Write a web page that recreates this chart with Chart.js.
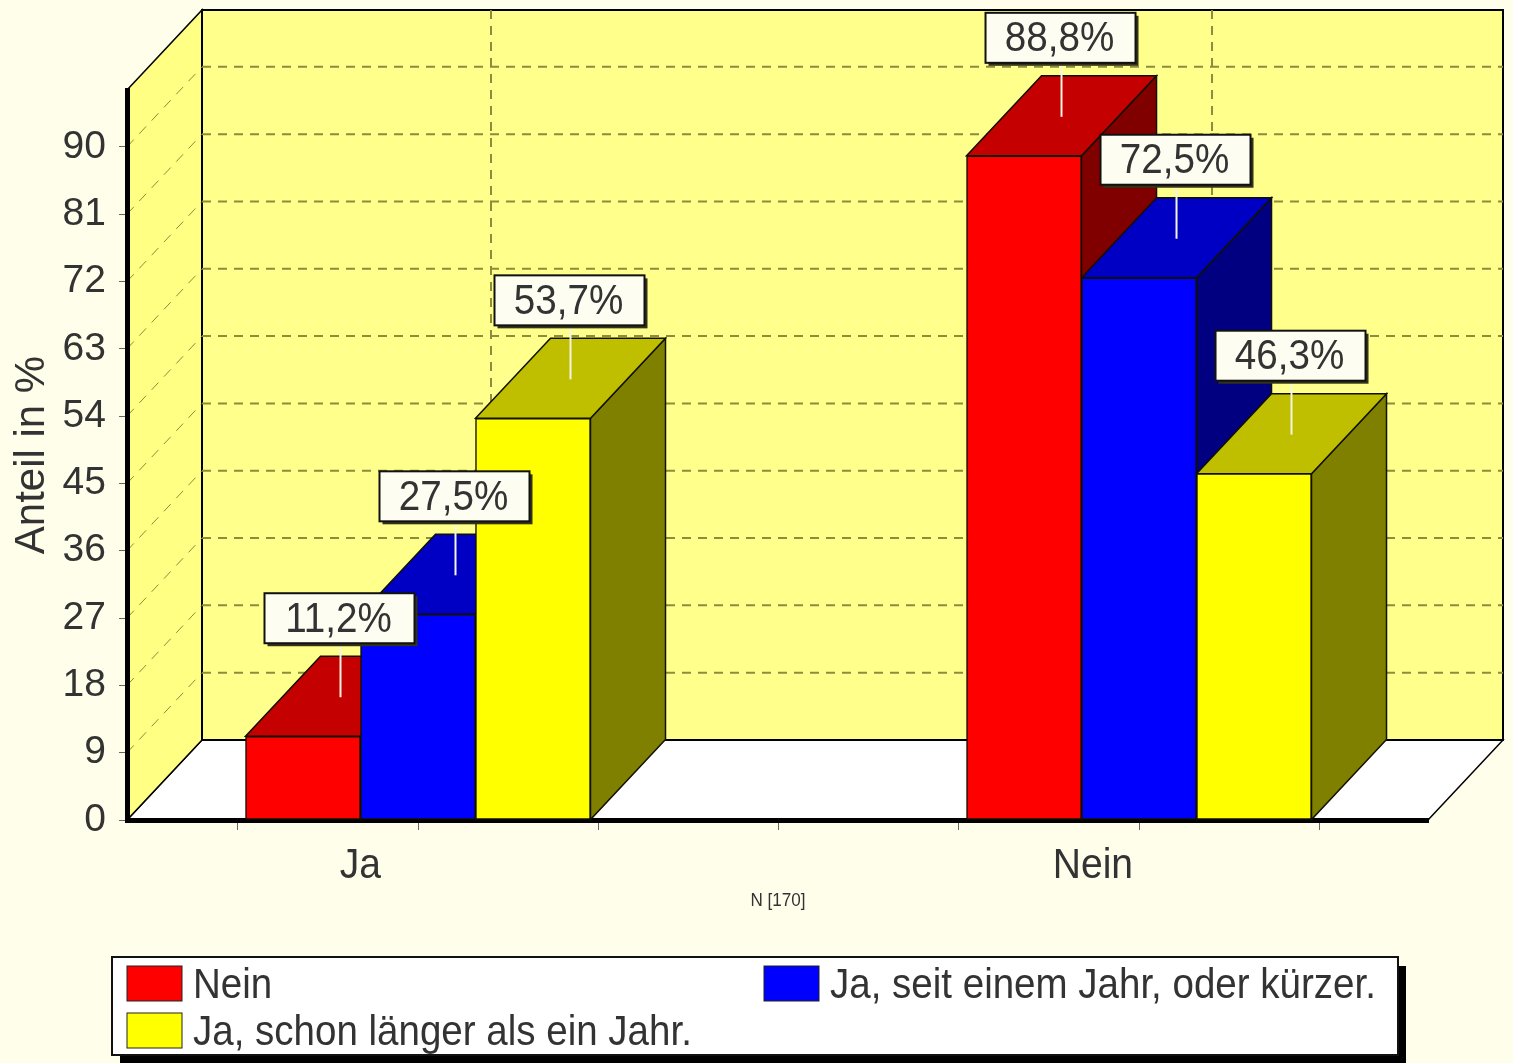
<!DOCTYPE html>
<html lang="de">
<head>
<meta charset="utf-8">
<title>Anteil in %</title>
<style>
  html, body { margin: 0; padding: 0; background: #fffeeb; }
  #chartBox { position: relative; width: 1513px; height: 1063px; }
</style>
</head>
<body>
<div id="chartBox"><canvas id="chart"></canvas></div>
<script src="https://cdn.jsdelivr.net/npm/chart.js@4/dist/chart.umd.min.js"></script>
<script>
const categories = ["Ja", "Nein"];
const categoryPositions = [0, 1];
const categoryLabelPositions = [-0.08, 0.936];
const seriesNames = ["Nein", "Ja, seit einem Jahr, oder kürzer.", "Ja, schon länger als ein Jahr."];
const neinValues = [11.2, 88.8];
const kurzValues = [27.5, 72.5];
const langValues = [53.7, 46.3];
const frontColors = ["#ff0000", "#0000ff", "#ffff00"];
const topColors = ["#c40000", "#0000c4", "#bfbf00"];
const sideColors = ["#800000", "#000080", "#808000"];
const sampleNote = "N [170]";
const yTitle = "Anteil in %";

const DEPTH_X = 75;
const DEPTH_Y = 80;
const FONT = '"Liberation Sans", Arial, sans-serif';

function polygon(ctx, points, fill, stroke, lineWidth) {
  ctx.beginPath();
  points.forEach((p, i) => (i ? ctx.lineTo(p[0], p[1]) : ctx.moveTo(p[0], p[1])));
  ctx.closePath();
  if (fill) {
    ctx.fillStyle = fill;
    ctx.fill();
  }
  if (stroke) {
    ctx.strokeStyle = stroke;
    ctx.lineWidth = lineWidth || 1;
    ctx.stroke();
  }
}

function dashedLine(ctx, x1, y1, x2, y2, dash, width) {
  ctx.save();
  ctx.strokeStyle = "#8c8c3c";
  ctx.lineWidth = width;
  ctx.setLineDash(dash);
  ctx.beginPath();
  ctx.moveTo(x1, y1);
  ctx.lineTo(x2, y2);
  ctx.stroke();
  ctx.restore();
}

// the reference text is taller and narrower than Liberation Sans
function narrowText(ctx, text, x, y, stretch) {
  ctx.save();
  ctx.translate(x, y);
  ctx.scale(stretch, 1);
  ctx.fillText(text, 0, 0);
  ctx.restore();
}

function drawWalls(chart) {
  const ctx = chart.ctx;
  const { left, right, top, bottom } = chart.chartArea;
  const yScale = chart.scales.y;
  const xScale = chart.scales.x;

  ctx.save();
  ctx.fillStyle = "#fffeeb";
  ctx.fillRect(0, 0, chart.width, chart.height);

  polygon(ctx, [[left, bottom], [right, bottom], [right + DEPTH_X, bottom - DEPTH_Y], [left + DEPTH_X, bottom - DEPTH_Y]], "#ffffff", "#000000", 1.5);
  polygon(ctx, [[left, top], [left + DEPTH_X, top - DEPTH_Y], [left + DEPTH_X, bottom - DEPTH_Y], [left, bottom]], "#ffff84", "#000000", 1.5);
  polygon(ctx, [[left + DEPTH_X, top - DEPTH_Y], [right + DEPTH_X, top - DEPTH_Y], [right + DEPTH_X, bottom - DEPTH_Y], [left + DEPTH_X, bottom - DEPTH_Y]], "#ffff8c", "#000000", 2);

  yScale.ticks.forEach((tick) => {
    if (tick.value === 0) {
      return;
    }
    const y = yScale.getPixelForValue(tick.value);
    dashedLine(ctx, left + DEPTH_X, y - DEPTH_Y, right + DEPTH_X, y - DEPTH_Y, [9, 7], 2);
    dashedLine(ctx, left, y, left + DEPTH_X, y - DEPTH_Y, [10, 8], 1);
  });
  categoryPositions.forEach((value) => {
    const x = xScale.getPixelForValue(value) + DEPTH_X - 2;
    dashedLine(ctx, x, top - DEPTH_Y, x, bottom - DEPTH_Y, [9, 7], 2);
  });
  ctx.restore();
}

function drawBarDepth(chart) {
  const ctx = chart.ctx;
  ctx.save();
  chart.data.datasets.forEach((dataset, datasetIndex) => {
    chart.getDatasetMeta(datasetIndex).data.forEach((bar) => {
      const x1 = bar.x - bar.width / 2;
      const x2 = bar.x + bar.width / 2;
      const y = bar.y;
      const base = bar.base;
      polygon(ctx, [[x2, y], [x2 + DEPTH_X, y - DEPTH_Y], [x2 + DEPTH_X, base - DEPTH_Y], [x2, base]], sideColors[datasetIndex], "#111100", 1.5);
      polygon(ctx, [[x1, y], [x1 + DEPTH_X, y - DEPTH_Y], [x2 + DEPTH_X, y - DEPTH_Y], [x2, y]], topColors[datasetIndex], "#111100", 1.5);
    });
  });
  ctx.restore();
}

function drawValueLabels(chart) {
  const ctx = chart.ctx;
  ctx.save();
  ctx.font = "42px " + FONT;
  ctx.textAlign = "center";
  ctx.textBaseline = "middle";
  chart.data.datasets.forEach((dataset, datasetIndex) => {
    chart.getDatasetMeta(datasetIndex).data.forEach((bar, index) => {
      const cx = bar.x + DEPTH_X / 2;
      const backTop = bar.y - DEPTH_Y;
      const boxBottom = backTop - 13;
      const boxTop = boxBottom - 50;
      ctx.strokeStyle = "#f4f4e4";
      ctx.lineWidth = 2;
      ctx.beginPath();
      ctx.moveTo(cx, boxBottom);
      ctx.lineTo(cx, backTop + 41);
      ctx.stroke();
      ctx.fillStyle = "#33331a";
      ctx.fillRect(cx - 73, boxTop + 3, 150, 50);
      ctx.fillStyle = "#fdfdf2";
      ctx.fillRect(cx - 76, boxTop, 150, 50);
      ctx.strokeStyle = "#111111";
      ctx.lineWidth = 2;
      ctx.strokeRect(cx - 76, boxTop, 150, 50);
      ctx.fillStyle = "#333333";
      const text = dataset.data[index].y.toFixed(1).replace(".", ",") + "%";
      narrowText(ctx, text, cx - 2, boxTop + 27, 0.92);
    });
  });
  ctx.restore();
}

function drawCategoryLabels(chart) {
  const ctx = chart.ctx;
  ctx.save();
  ctx.fillStyle = "#333333";
  ctx.textAlign = "center";
  ctx.textBaseline = "middle";
  ctx.font = "42px " + FONT;
  categories.forEach((name, i) => {
    narrowText(ctx, name, chart.scales.x.getPixelForValue(categoryLabelPositions[i]), 866, 0.93);
  });
  ctx.font = "18px " + FONT;
  narrowText(ctx, sampleNote, 778, 901, 0.95);
  ctx.restore();
}

function drawLegend(chart) {
  const ctx = chart.ctx;
  const rows = [[127, 966], [764, 966], [127, 1013]];
  ctx.save();
  ctx.fillStyle = "#000000";
  ctx.fillRect(120, 966, 1286, 97);
  ctx.fillStyle = "#ffffff";
  ctx.fillRect(112, 957, 1286, 98);
  ctx.strokeStyle = "#111111";
  ctx.lineWidth = 2;
  ctx.strokeRect(112, 957, 1286, 98);
  ctx.font = "42px " + FONT;
  ctx.textAlign = "left";
  ctx.textBaseline = "middle";
  chart.data.datasets.forEach((dataset, i) => {
    const [x, y] = rows[i];
    ctx.fillStyle = dataset.backgroundColor;
    ctx.fillRect(x, y, 55, 35);
    ctx.strokeStyle = "#222222";
    ctx.lineWidth = 1;
    ctx.strokeRect(x, y, 55, 35);
    ctx.fillStyle = "#333333";
    narrowText(ctx, dataset.label, x + 66, y + 20, 0.917);
  });
  ctx.restore();
}

const scenePlugin = {
  id: "scene",
  beforeDraw: drawWalls,
  beforeDatasetsDraw: drawBarDepth,
  afterDatasetsDraw(chart) {
    drawValueLabels(chart);
    drawCategoryLabels(chart);
    drawLegend(chart);
  },
};

const seriesValues = [neinValues, kurzValues, langValues];

new Chart(document.getElementById("chart"), {
  type: "bar",
  data: {
    datasets: seriesNames.map((name, i) => ({
      label: name,
      data: seriesValues[i].map((value, k) => ({ x: categoryPositions[k], y: value })),
      backgroundColor: frontColors[i],
      borderColor: "#111100",
      borderWidth: 1.5,
      borderSkipped: false,
      barThickness: 115,
    })),
  },
  plugins: [scenePlugin],
  options: {
    responsive: true,
    maintainAspectRatio: false,
    animation: false,
    layout: { autoPadding: false, padding: { top: 90, right: 85, left: 0, bottom: 0 } },
    plugins: { legend: { display: false }, tooltip: { enabled: false } },
    scales: {
      x: {
        type: "linear",
        offset: false,
        min: -0.4036,
        max: 1.4008,
        afterFit: (scale) => { scale.height = 243; },
        grid: { offset: false, drawOnChartArea: false, tickLength: 10, color: "#666666" },
        border: { display: true, width: 5, color: "#000000" },
        ticks: {
          stepSize: 0.25,
          includeBounds: false,
          autoSkip: false,
          maxRotation: 0,
          callback: () => "",
        },
      },
      y: {
        min: 0,
        max: 97.6,
        afterFit: (scale) => { scale.width = 127; },
        grid: { drawOnChartArea: false, tickLength: 8, color: "#666666" },
        border: { display: true, width: 5, color: "#000000" },
        title: {
          display: true,
          text: yTitle,
          color: "#333333",
          font: { family: FONT, size: 42 },
          padding: { top: 7, bottom: 0 },
        },
        ticks: {
          stepSize: 9,
          includeBounds: false,
          color: "#333333",
          padding: 13,
          font: { family: FONT, size: 39 },
        },
      },
    },
  },
});
</script>
</body>
</html>
